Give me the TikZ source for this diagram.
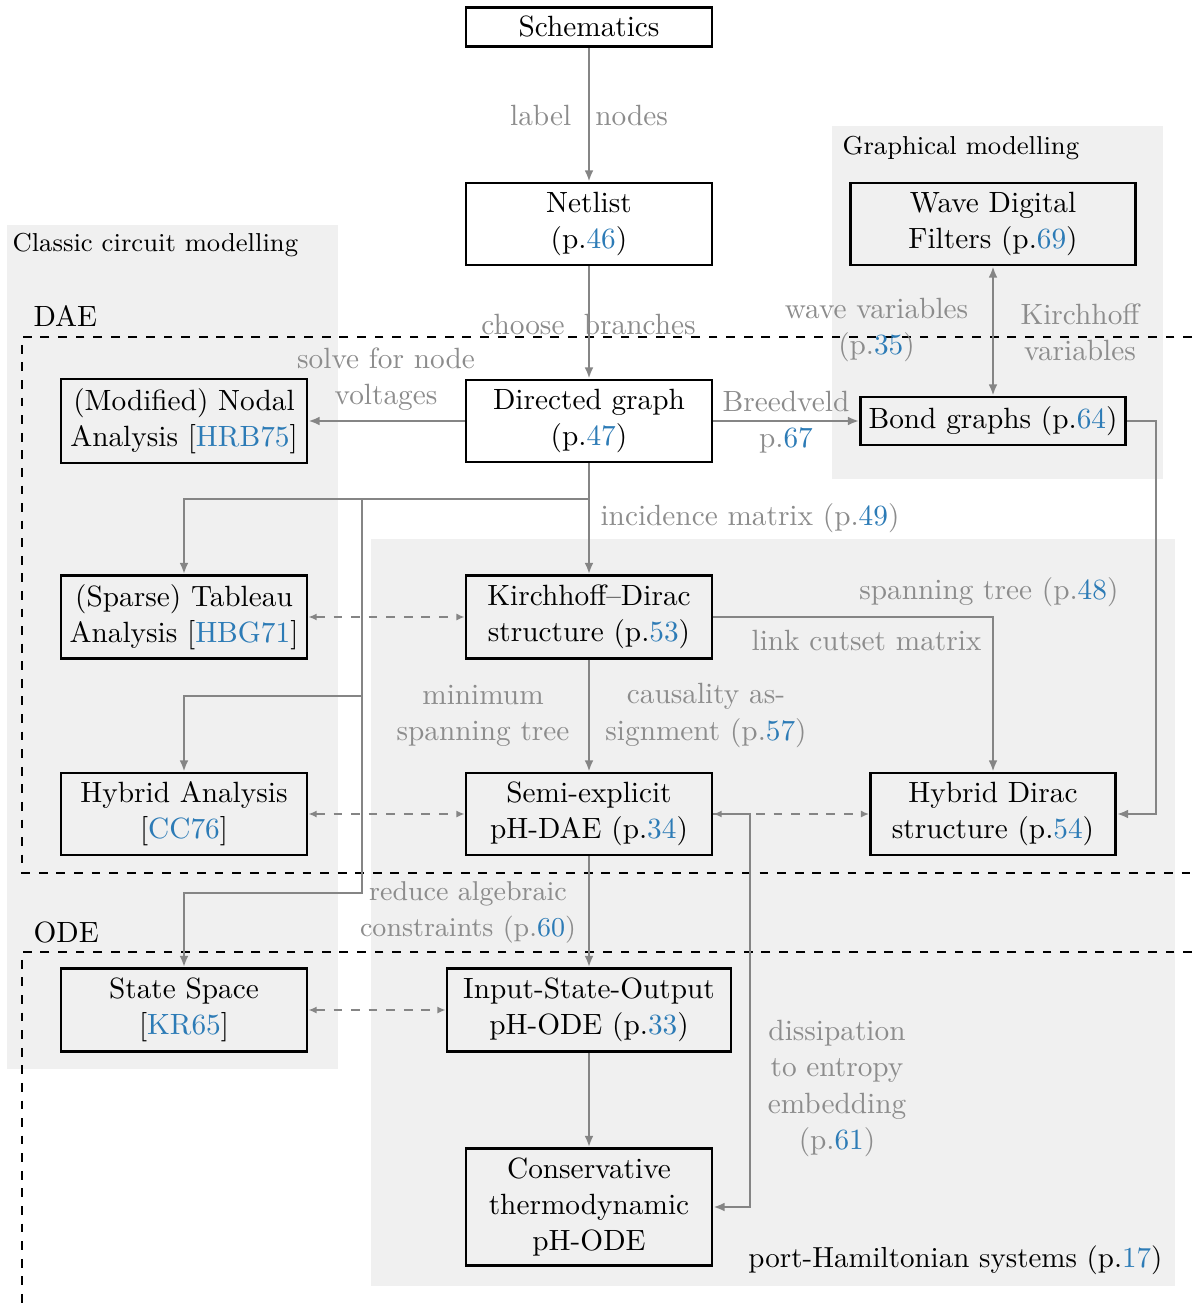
\documentclass[tikz,border=0pt]{standalone}
\usetikzlibrary{arrows.meta}
\definecolor{bggray}{HTML}{F0F0F0}
\definecolor{lblgray}{HTML}{8C8C8C}
\definecolor{arrgray}{HTML}{858585}
\definecolor{linkblue}{RGB}{44,123,182}
\newcommand{\mypg}[1]{p.\textcolor{linkblue}{#1}}
\newcommand{\mycite}[1]{[\textcolor{linkblue}{#1}]}
\newdimen\pxu
\pxu=0.3413pt
\begin{document}
\begin{tikzpicture}[x=0.3413pt,y=-0.3413pt,
  every node/.append style={font=\fontsize{10pt}{12.3pt}\selectfont},
  box/.style={draw, line width=1pt, align=center, inner sep=0pt, minimum width=246\pxu, minimum height=82\pxu},
  lbl/.style={text=lblgray, align=center, inner sep=0pt},
  ttl/.style={inner sep=0pt},
  arr/.style={draw=arrgray, line width=0.7pt, -{Latex[length=3.8pt,width=3pt]}},
  darr/.style={draw=arrgray, line width=0.5pt, dashed, {Latex[length=2.8pt,width=2.4pt]}-{Latex[length=2.8pt,width=2.4pt]}},
  region/.style={draw=black, line width=0.35pt, dashed}]
\useasboundingbox (0,0) rectangle (1192,1303);
% backgrounds
\fill[bggray] (7,225) rectangle (338,1069);
\fill[bggray] (832,126) rectangle (1163,479);
\fill[bggray] (371,539) rectangle (1175,1286);
% region titles
\node[ttl, font=\fontsize{8.85pt}{10.6pt}\selectfont, anchor=west] (tclassic) at (12,245) {Classic circuit modelling};
\node[ttl, font=\fontsize{8.85pt}{10.6pt}\selectfont, anchor=west] (tgraph) at (842,148) {Graphical modelling};
\node[ttl, font=\fontsize{9.9pt}{11.9pt}\selectfont, anchor=east] (tph) at (1163,1260) {port-Hamiltonian systems (\mypg{17})};
\node[ttl, anchor=west] (tdae) at (33,316) {DAE};
\node[ttl, anchor=west] (tode) at (33,932) {ODE};
% DAE / ODE frames
\draw[region] (1192,337) -- (22,337) -- (22,873) -- (1192,873);
\draw[region] (1192,952) -- (22,952) -- (22,1303);
% nodes
\node[box, minimum height=39\pxu] (sch) at (589,27) {Schematics};
\node[box] (net) at (589,224) {Netlist\\(\mypg{46})};
\node[box] (dg) at (589,421) {Directed graph\\(\mypg{47})};
\node[box, minimum height=84\pxu] (mna) at (184,421) {(Modified) Nodal\\Analysis \mycite{HRB75}};
\node[box, minimum height=83\pxu] (sta) at (184,617) {(Sparse) Tableau\\Analysis \mycite{HBG71}};
\node[box] (ha) at (184,814) {Hybrid Analysis\\\mycite{CC76}};
\node[box, minimum height=83\pxu] (ss) at (184,1010) {State Space\\\mycite{KR65}};
\node[box, minimum height=83\pxu] (kd) at (589,617) {Kirchhoff--Dirac\\structure (\mypg{53})};
\node[box] (se) at (589,814) {Semi-explicit\\pH-DAE (\mypg{34})};
\node[box, minimum width=284\pxu, minimum height=83\pxu] (iso) at (589,1010) {Input-State-Output\\pH-ODE (\mypg{33})};
\node[box, minimum height=117\pxu] (cons) at (589,1207) {Conservative\\thermodynamic\\pH-ODE};
\node[box, minimum width=285\pxu] (wdf) at (993,224) {Wave Digital\\Filters (\mypg{69})};
\node[box, minimum width=265\pxu, minimum height=48\pxu] (bg) at (993,421) {Bond graphs (\mypg{64})};
\node[box, minimum width=245\pxu] (hd) at (993,814) {Hybrid Dirac\\structure (\mypg{54})};
% helper coordinates
\coordinate (j1) at (589,499);
\coordinate (j2) at (362,499);
\coordinate (b1) at (362,696);
\coordinate (b2) at (362,893);
\coordinate (r1) at (1156,421);
\coordinate (r2) at (750,814);
% connectors
\draw[arr] (sch) -- (net);
\draw[arr] (net) -- (dg);
\draw[arr] (dg) -- (mna);
\draw[arr] (dg) -- (bg);
\draw[draw=arrgray, line width=0.7pt, {Latex[length=3.8pt,width=3pt]}-{Latex[length=3.8pt,width=3pt]}] (wdf) -- (bg);
\draw[arr] (dg) -- (kd);
\draw[arr] (j1) -| (sta);
\draw[arr] (j2) -- (b1) -| (ha);
\draw[arr] (b1) -- (b2) -| (ss);
\draw[arr] (kd) -- (se);
\draw[arr] (kd) -| (hd);
\draw[arr] (bg) -- (r1) |- (hd);
\draw[arr] (se) -- (iso);
\draw[arr] (iso) -- (cons);
\draw[arr] (se) -- (r2) |- (cons);
\draw[darr] (sta) -- (kd);
\draw[darr] (ha) -- (se);
\draw[darr] (se) -- (hd);
\draw[darr] (ss) -- (iso);
% connector labels
\node[lbl] (l1) at (589,116) {label\hspace{8.2pt}nodes};
\node[lbl] (l2) at (588.5,324) {choose\hspace{6.6pt}branches};
\node[lbl] (l3) at (386,379) {solve for node\\voltages};
\node[lbl] (l4) at (786,422) {Breedveld\\\mypg{67}};
\node[lbl] (l5) at (876.5,330) {wave variables\\(\mypg{35})};
\node[lbl] (l6) at (1080,332) {Kirchhoff\\variables};
\node[lbl, anchor=west] (l7) at (600,518) {incidence matrix (\mypg{49})};
\node[lbl, anchor=east] (l8) at (1119,592) {spanning tree (\mypg{48})};
\node[lbl, anchor=east] (l9) at (982,640) {link cutset matrix};
\node[lbl] (l10) at (483,715.5) {minimum\\spanning tree};
\node[lbl] (l11) at (706,715.5) {causality as-\\signment (\mypg{57})};
\node[lbl, font=\fontsize{9.3pt}{12.3pt}\selectfont] (l12) at (468,912) {reduce algebraic\\constraints (\mypg{60})};
\node[lbl] (l13) at (837,1088.5) {dissipation\\to entropy\\embedding\\(\mypg{61})};
\end{tikzpicture}
\end{document}
